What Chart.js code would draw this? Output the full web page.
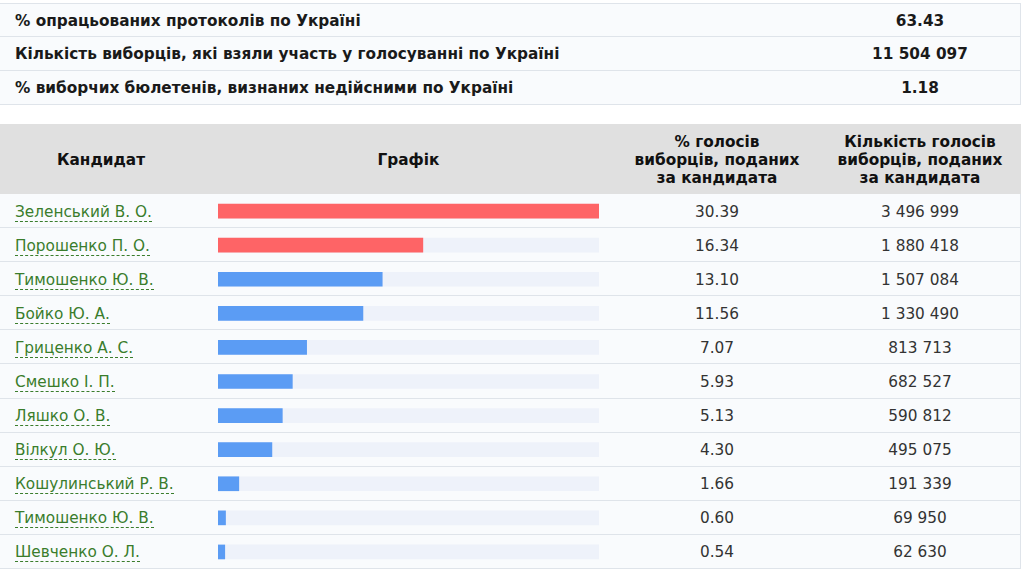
<!DOCTYPE html>
<html>
<head>
<meta charset="utf-8">
<script src="https://cdn.jsdelivr.net/npm/chart.js@4.4.1/dist/chart.umd.min.js"></script>
<style>
  html, body { margin:0; padding:0; background:#ffffff; }
  body { width:1024px; height:569px; position:relative; overflow:hidden;
         font-family:"DejaVu Sans", Verdana, sans-serif; font-size:15.3px; color:#333; }
  .row { position:absolute; left:0; width:1021px; background:#f9fbfd;
         border-bottom:1px solid #dfe4ea; border-right:1px solid #dfe4ea; box-sizing:border-box; }
  .cell { position:absolute; top:0; height:100%; display:flex; align-items:center; }
  .lbl { left:15px; font-weight:bold; color:#1a1a1a; padding-top:1px; box-sizing:border-box; }
  .val { left:820px; width:200px; justify-content:center; font-weight:bold; color:#1a1a1a; padding-top:1px; box-sizing:border-box; }
  .hdr { position:absolute; left:0; top:124px; width:1021px; height:70px; background:#e0e0e0; }
  .hc { position:absolute; top:1px; height:70px; display:flex; align-items:center; justify-content:center;
        text-align:center; font-weight:bold; color:#111; line-height:18px; }
  .name { left:15px; padding-top:4px; box-sizing:border-box; }
  .name span { color:#3a7d2c; border-bottom:1px dashed #3a7d2c; line-height:17px; }
  .pct { left:617px; width:200px; justify-content:center; padding-top:2px; box-sizing:border-box; }
  .cnt { left:820px; width:200px; justify-content:center; padding-top:2px; box-sizing:border-box; }
  #chartBox { position:absolute; left:218px; top:194px; width:381px; height:375px; }
</style>
</head>
<body>
<div id="summary"></div>
<div class="hdr">
  <div class="hc" style="left:0;width:202px;">Кандидат</div>
  <div class="hc" style="left:218px;width:381px;">Графік</div>
  <div class="hc" style="left:617px;width:200px;">% голосів<br>виборців, поданих<br>за кандидата</div>
  <div class="hc" style="left:820px;width:200px;">Кількість голосів<br>виборців, поданих<br>за кандидата</div>
</div>
<div id="rows"></div>
<div id="chartBox"><canvas id="c"></canvas></div>
<script>
const summaryLabels = [
  "% опрацьованих протоколів по Україні",
  "Кількість виборців, які взяли участь у голосуванні по Україні",
  "% виборчих бюлетенів, визнаних недійсними по Україні"
];
const summaryValues = ["63.43", "11 504 097", "1.18"];

const candidates = [
  "Зеленський В. О.", "Порошенко П. О.", "Тимошенко Ю. В.", "Бойко Ю. А.",
  "Гриценко А. С.", "Смешко І. П.", "Ляшко О. В.", "Вілкул О. Ю.",
  "Кошулинський Р. В.", "Тимошенко Ю. В.", "Шевченко О. Л."
];
const percents = [30.39, 16.34, 13.10, 11.56, 7.07, 5.93, 5.13, 4.30, 1.66, 0.60, 0.54];
const votes = ["3 496 999", "1 880 418", "1 507 084", "1 330 490", "813 713", "682 527",
               "590 812", "495 075", "191 339", "69 950", "62 630"];

// summary table
const sum = document.getElementById('summary');
summaryLabels.forEach((l, i) => {
  const r = document.createElement('div');
  r.className = 'row';
  r.style.top = (3 + i * 34) + 'px';
  r.style.height = '34px';
  if (i === 0) r.style.borderTop = '1px solid #dfe4ea';
  r.innerHTML = '<div class="cell lbl">' + l + '</div><div class="cell val">' + summaryValues[i] + '</div>';
  sum.appendChild(r);
});

// candidate rows
const rows = document.getElementById('rows');
const rowH = 375 / candidates.length;
candidates.forEach((c, i) => {
  const r = document.createElement('div');
  r.className = 'row';
  const top = 194 + i * rowH;
  r.style.top = top + 'px';
  r.style.height = rowH + 'px';
  r.innerHTML = '<div class="cell name"><span>' + c + '</span></div>' +
    '<div class="cell pct">' + percents[i].toFixed(2) + '</div>' +
    '<div class="cell cnt">' + votes[i] + '</div>';
  rows.appendChild(r);
});

const maxVal = Math.max(...percents);
new Chart(document.getElementById('c'), {
  type: 'bar',
  data: {
    labels: candidates.map((c, i) => i + ':' + c),
    datasets: [
      {
        data: percents,
        backgroundColor: percents.map((v, i) => i < 2 ? '#fe6466' : '#5b9cf4'),
        borderWidth: 0,
        barThickness: 14,
        grouped: false,
        order: 1
      },
      {
        data: percents.map(() => maxVal),
        backgroundColor: '#eef2fa',
        borderWidth: 0,
        barThickness: 14,
        grouped: false,
        order: 2
      }
    ]
  },
  options: {
    indexAxis: 'y',
    responsive: true,
    maintainAspectRatio: false,
    animation: false,
    layout: { padding: 0 },
    plugins: { legend: { display: false }, tooltip: { enabled: false } },
    scales: {
      x: { display: false, min: 0, max: maxVal },
      y: { display: false }
    }
  }
});
</script>
</body>
</html>
